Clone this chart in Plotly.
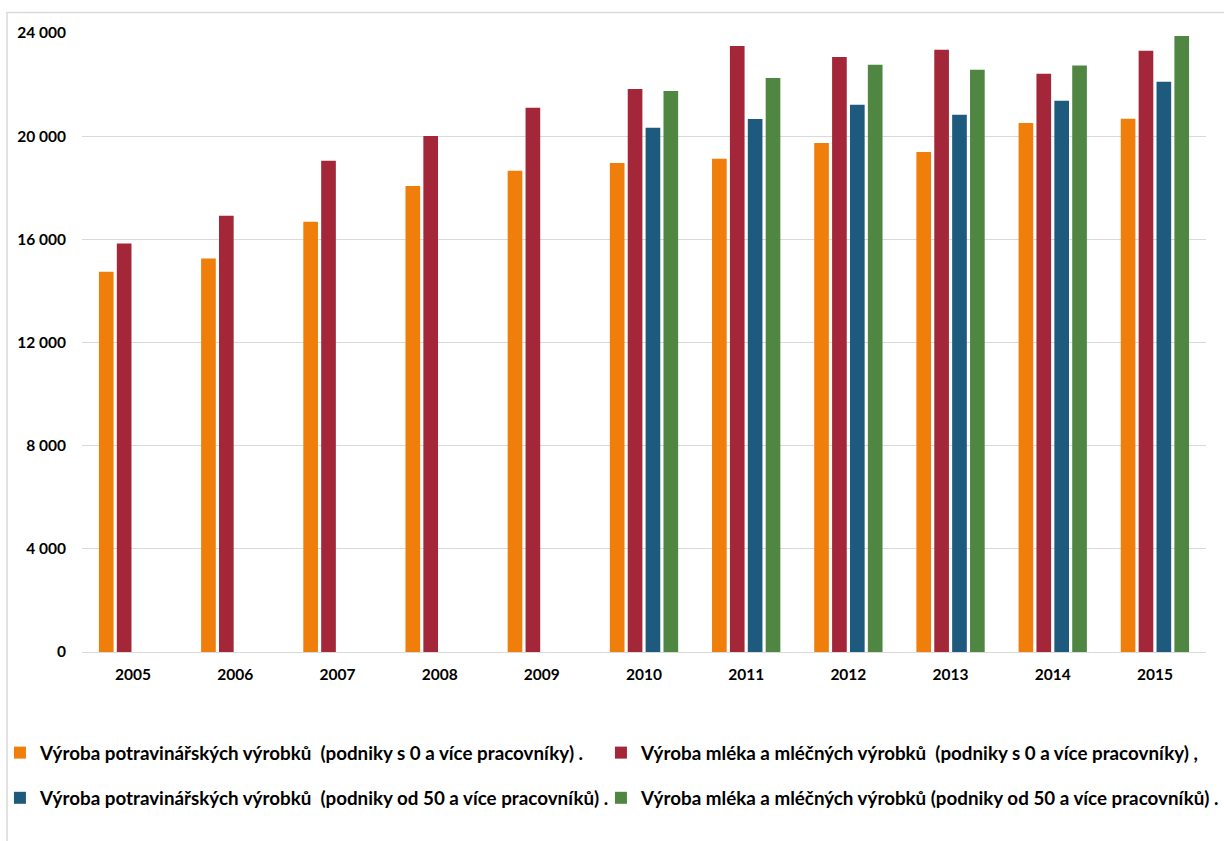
import plotly.graph_objects as go

# Roky a hodnoty jednotlivých řad
years = ["2005", "2006", "2007", "2008", "2009", "2010",
         "2011", "2012", "2013", "2014", "2015"]

potraviny_vse = [14740, 15256, 16680, 18065, 18658, 18957,
                 19123, 19732, 19383, 20508, 20675]
mleko_vse = [15838, 16912, 19046, 20010, 21102, 21827,
             23495, 23068, 23351, 22421, 23313]
potraviny_50 = [None, None, None, None, None, 20326,
                20663, 21218, 20830, 21373, 22110]
mleko_50 = [None, None, None, None, None, 21750,
            22254, 22770, 22576, 22743, 23883]

names = [
    "Výroba potravinářských výrobků  (podniky s 0 a více pracovníky) .",
    "Výroba mléka a mléčných výrobků  (podniky s 0 a více pracovníky) ,",
    "Výroba potravinářských výrobků  (podniky od 50 a více pracovníků) .",
    "Výroba mléka a mléčných výrobků (podniky od 50 a více pracovníků) .",
]
colors = ["#EF7F0A", "#A32738", "#1E5A7D", "#4E8642"]
series = [potraviny_vse, mleko_vse, potraviny_50, mleko_50]

# each legend entry gets its own legend box: 2 columns x 2 rows
legend_ids = ["legend", "legend2", "legend3", "legend4"]
legend_pos = [(-0.073, -0.163), (0.4617, -0.163),
              (-0.073, -0.236), (0.4617, -0.236)]

y_ticks = [0, 4000, 8000, 12000, 16000, 20000, 24000]

FONT = "Lato, 'Open Sans', sans-serif"

fig = go.Figure()
for name, vals, col, lg in zip(names, series, colors, legend_ids):
    fig.add_trace(go.Bar(
        x=years, y=vals, name=name, legend=lg,
        marker=dict(color=col, line=dict(width=0)),
    ))

legend_layout = {}
for lg, (lx, ly) in zip(legend_ids, legend_pos):
    legend_layout[lg] = dict(
        orientation="h", xanchor="left", yanchor="middle", x=lx, y=ly,
        font=dict(family=FONT, size=18.8, color="#000000", weight="bold"),
        bgcolor="rgba(0,0,0,0)", itemclick=False, itemdoubleclick=False,
    )

fig.update_layout(
    width=1224, height=841,
    margin=dict(l=82, r=18, t=33, b=189, autoexpand=False),
    paper_bgcolor="#ffffff", plot_bgcolor="#ffffff",
    barmode="group", bargap=0.30, bargroupgap=0.18,
    separators=", ",
    font=dict(family=FONT, color="#000000"),
    showlegend=True,
    xaxis=dict(
        type="category", showgrid=False, showline=False, ticks="",
        ticklabelstandoff=11, automargin=False,
        tickfont=dict(family=FONT, size=15.5, color="#000000", weight="bold"),
    ),
    yaxis=dict(
        range=[0, 24000], tickvals=y_ticks, tickformat=",d",
        showgrid=True, gridcolor="#d9d9d9", gridwidth=1,
        zeroline=True, zerolinecolor="#d9d9d9", zerolinewidth=1,
        showline=False, ticks="", ticklabelstandoff=15, automargin=False,
        tickfont=dict(family=FONT, size=15.5, color="#000000", weight="bold"),
    ),
    shapes=[dict(
        type="rect", xref="paper", yref="paper",
        x0=-0.0667, x1=1.05, y0=-0.35, y1=1.0331,
        line=dict(color="#d9d9d9", width=1.5), fillcolor="rgba(0,0,0,0)",
        layer="below",
    )],
    **legend_layout,
)

fig.write_html("out.html")
